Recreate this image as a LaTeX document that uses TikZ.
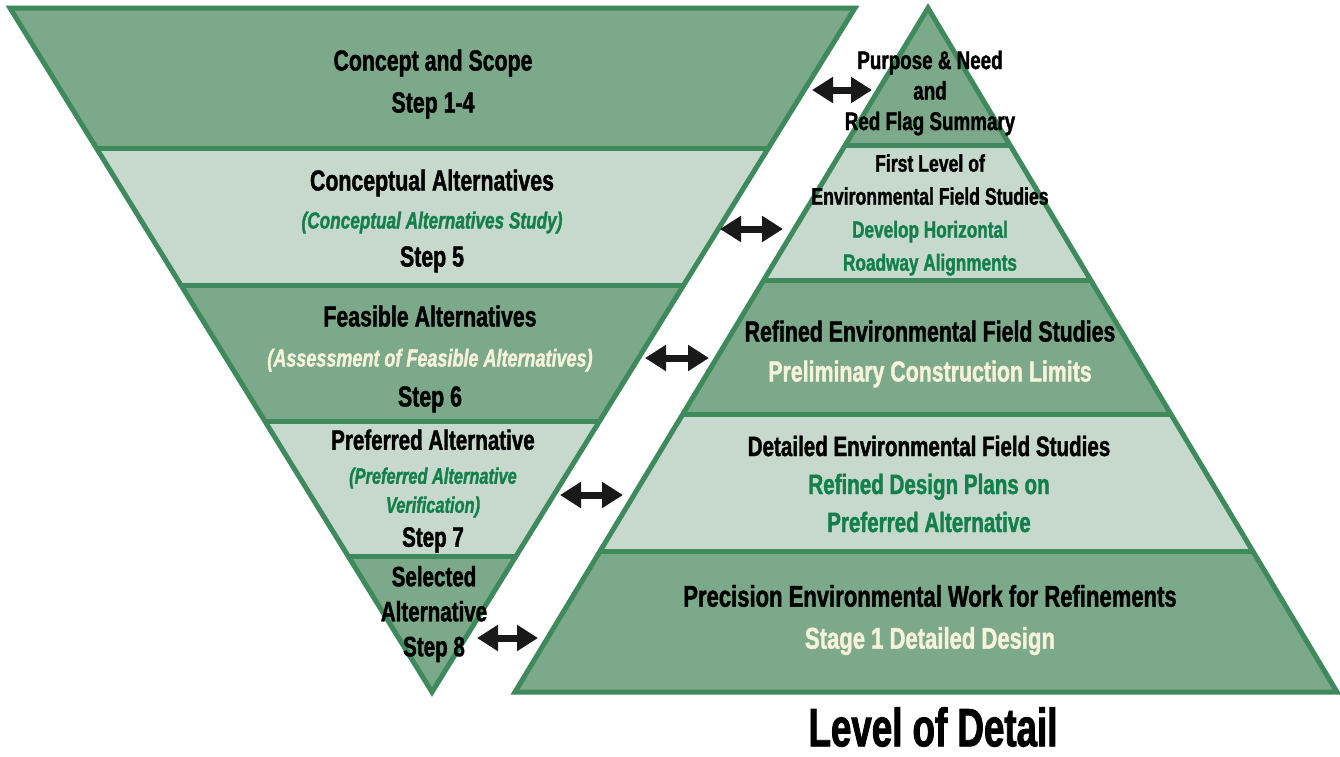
\documentclass[tikz,border=0pt]{standalone}
\usepackage{fontspec}
\setmainfont{Liberation Sans}[FakeStretch=0.735,
  BoldFeatures={FakeBold=1.4}, BoldItalicFeatures={FakeBold=1.4}]
\newfontfamily\headfont{Liberation Sans}[FakeStretch=0.68, BoldFeatures={FakeBold=1.6}]
\usetikzlibrary{arrows.meta,calc}

\definecolor{bandDark}{HTML}{7CA98A}
\definecolor{bandLight}{HTML}{C7D9CD}
\definecolor{bandEdge}{HTML}{3E8A5C}
\definecolor{noteGreen}{HTML}{13804B}
\definecolor{noteCream}{HTML}{F7F2DA}

% inline helpers for the coloured lines inside a band
\newcommand{\greenline}[2]{{\fontsize{#1}{#1}\selectfont\color{noteGreen}#2}}
\newcommand{\creamline}[2]{{\fontsize{#1}{#1}\selectfont\color{noteCream}#2}}

\begin{document}
\begin{tikzpicture}[x=1pt, y=-1pt,
  edge/.style={draw=bandEdge, line width=5pt},
  lbl/.style={align=center, inner sep=0pt, font=\bfseries\fontsize{#1}{#1}\selectfont},
  lbl/.default=29,
  twoway/.style={{Triangle[length=21pt,width=25pt]}-{Triangle[length=21pt,width=25pt]}, line width=7pt, draw=black!90}]
\fill[white] (0,0) rectangle (1340,756);
\useasboundingbox (0,0) rectangle (1340,756);

% funnel (steps) and pyramid (level of detail) corners
\coordinate (fTL) at (10,8);  \coordinate (fTR) at (855,8);  \coordinate (fB) at (432,692);
\coordinate (pT) at (928,8);  \coordinate (pBL) at (515,692); \coordinate (pBR) at (1337,692);

\foreach \ta/\tb/\c in {0/0.2047/bandDark, 0.2047/0.405/bandLight, 0.405/0.605/bandDark,
    0.605/0.8026/bandLight, 0.8026/1/bandDark}
  \fill[\c] ($(fTL)!\ta!(fB)$) -- ($(fTR)!\ta!(fB)$) -- ($(fTR)!\tb!(fB)$) -- ($(fTL)!\tb!(fB)$) -- cycle;
\foreach \t in {0.2047,0.405,0.605,0.8026}
  \draw[edge] ($(fTL)!\t!(fB)$) -- ($(fTR)!\t!(fB)$);
\draw[edge] (fTL) -- (fTR) -- (fB) -- cycle;

\foreach \ta/\tb/\c in {0/0.2003/bandDark, 0.2003/0.3977/bandLight, 0.3977/0.595/bandDark,
    0.595/0.795/bandLight, 0.795/1/bandDark}
  \fill[\c] ($(pT)!\ta!(pBL)$) -- ($(pT)!\ta!(pBR)$) -- ($(pT)!\tb!(pBR)$) -- ($(pT)!\tb!(pBL)$) -- cycle;
\foreach \t in {0.2003,0.3977,0.595,0.795}
  \draw[edge] ($(pT)!\t!(pBL)$) -- ($(pT)!\t!(pBR)$);
\draw[edge] (pT) -- (pBR) -- (pBL) -- cycle;

% steps
\node[lbl, font=\bfseries\fontsize{29}{42}\selectfont] (step1) at (433,84) {Concept and Scope\\Step 1-4};
\node[lbl, font=\bfseries\fontsize{29}{38}\selectfont] (step5) at (432,221)
  {Conceptual Alternatives\\\greenline{23.4}{\itshape(Conceptual Alternatives Study)}\\Step 5};
\node[lbl, font=\bfseries\fontsize{29}{40}\selectfont] (step6) at (430,359)
  {Feasible Alternatives\\\creamline{24.5}{\itshape(Assessment of Feasible Alternatives)}\\Step 6};
\node[lbl, font=\bfseries\fontsize{28}{34}\selectfont] (step7) at (433,491)
  {Preferred Alternative\\\greenline{22.3}{\itshape(Preferred Alternative}\\[-5pt]\greenline{22.3}{\itshape Verification)}\\Step 7};
\node[lbl, font=\bfseries\fontsize{28}{35}\selectfont] (step8) at (434,614) {Selected\\Alternative\\Step 8};

% levels of detail
\node[lbl, font=\bfseries\fontsize{25.6}{30.5}\selectfont] (lvl1) at (930,93) {Purpose \& Need\\and\\Red Flag Summary};
\node[lbl, font=\bfseries\fontsize{24}{33}\selectfont] (lvl2) at (930,215)
  {First Level of\\Environmental Field Studies\\\greenline{23.4}{Develop Horizontal}\\\greenline{23.4}{Roadway Alignments}};
\node[lbl, font=\bfseries\fontsize{29}{40}\selectfont] (lvl3) at (930,354)
  {Refined Environmental Field Studies\\\creamline{29}{Preliminary Construction Limits}};
\node[lbl, font=\bfseries\fontsize{28}{38}\selectfont] (lvl4) at (929,484)
  {Detailed Environmental Field Studies\\\greenline{28}{Refined Design Plans on}\\\greenline{28}{Preferred Alternative}};
\node[lbl, font=\bfseries\fontsize{30}{42}\selectfont] (lvl5) at (930,620)
  {Precision Environmental Work for Refinements\\\creamline{30}{Stage 1 Detailed Design}};

\node[lbl, font=\headfont\bfseries\fontsize{54}{54}\selectfont] (detail) at (933,727) {Level of Detail};

% links between a step and its level
\coordinate (a1w) at (812,90);  \coordinate (a1e) at (872,90);
\coordinate (a2w) at (720,229); \coordinate (a2e) at (783,229);
\coordinate (a3w) at (645,358); \coordinate (a3e) at (709,358);
\coordinate (a4w) at (560,495); \coordinate (a4e) at (623,495);
\coordinate (a5w) at (477,638); \coordinate (a5e) at (538,638);
\foreach \k in {1,...,5} \draw[twoway] (a\k w) -- (a\k e);
\end{tikzpicture}
\end{document}
